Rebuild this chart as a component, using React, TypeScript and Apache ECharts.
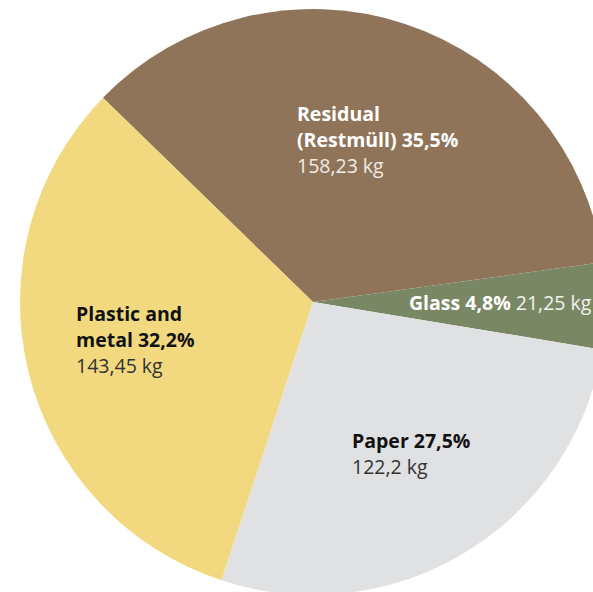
import React, { useEffect, useRef } from "react";
import * as echarts from "echarts";

const categories = ["Residual (Restmüll)", "Glass", "Paper", "Plastic and metal"];
const labelLines = [["Residual", "(Restmüll)"], ["Glass"], ["Paper"], ["Plastic and", "metal"]];
const valuesKg = [158.23, 21.25, 122.2, 143.45];
const colors = ["#8F7459", "#7A8764", "#E0E1E3", "#F2D97F"];
const textColors = ["#FFFFFF", "#FFFFFF", "#111111", "#111111"];
const kgColors = ["#F2ECE6", "#F2F2EC", "#333333", "#333333"];
const labelPos = [
  [297, 100],
  [409, 289],
  [352, 427],
  [76, 300],
];
const inlineKg = [false, true, false, false];

const fmt = (v: number, d: number) => v.toFixed(d).replace(".", ",");

export default function App() {
  const ref = useRef<HTMLDivElement>(null);
  useEffect(() => {
    document.body.style.margin = "0";
    const chart = echarts.init(ref.current!, undefined, { renderer: "svg" });
    const total = valuesKg.reduce((a, b) => a + b, 0);
    chart.setOption({
      animation: false,
      series: [
        {
          type: "pie",
          center: [313, 302],
          radius: [0, 293],
          startAngle: 135.8,
          clockwise: true,
          silent: true,
          data: categories.map((c, i) => ({
            name: c,
            value: valuesKg[i],
            itemStyle: { color: colors[i] },
            label: {
              rich: {
                b: { fontFamily: "Open Sans", fontWeight: "bold", fontSize: 19.5, color: textColors[i], lineHeight: 26 },
                n: { fontFamily: "Open Sans", fontWeight: "normal", fontSize: 19.5, color: kgColors[i], lineHeight: 26 },
              },
            },
          })),
          label: {
            show: true,
            position: "inside",
            formatter: (p: any) => {
              const i = p.dataIndex;
              const pct = fmt((valuesKg[i] / total) * 100, 1) + "%";
              const lines = labelLines[i].slice();
              lines[lines.length - 1] = lines[lines.length - 1] + " " + pct;
              const bold = lines.map((l) => `{b|${l}}`).join("\n");
              const kg = `{n|${fmt(valuesKg[i], i === 2 ? 1 : 2)} kg}`;
              return inlineKg[i] ? `${bold}{n| }${kg}` : `${bold}\n${kg}`;
            },
          },
          labelLayout: (p: any) => ({
            x: labelPos[p.dataIndex][0],
            y: labelPos[p.dataIndex][1],
            align: "left",
            verticalAlign: "top",
          }),
          labelLine: { show: false },
        },
      ],
    });
    return () => chart.dispose();
  }, []);
  return <div ref={ref} style={{ width: 593, height: 592, background: "#fff" }} />;
}
